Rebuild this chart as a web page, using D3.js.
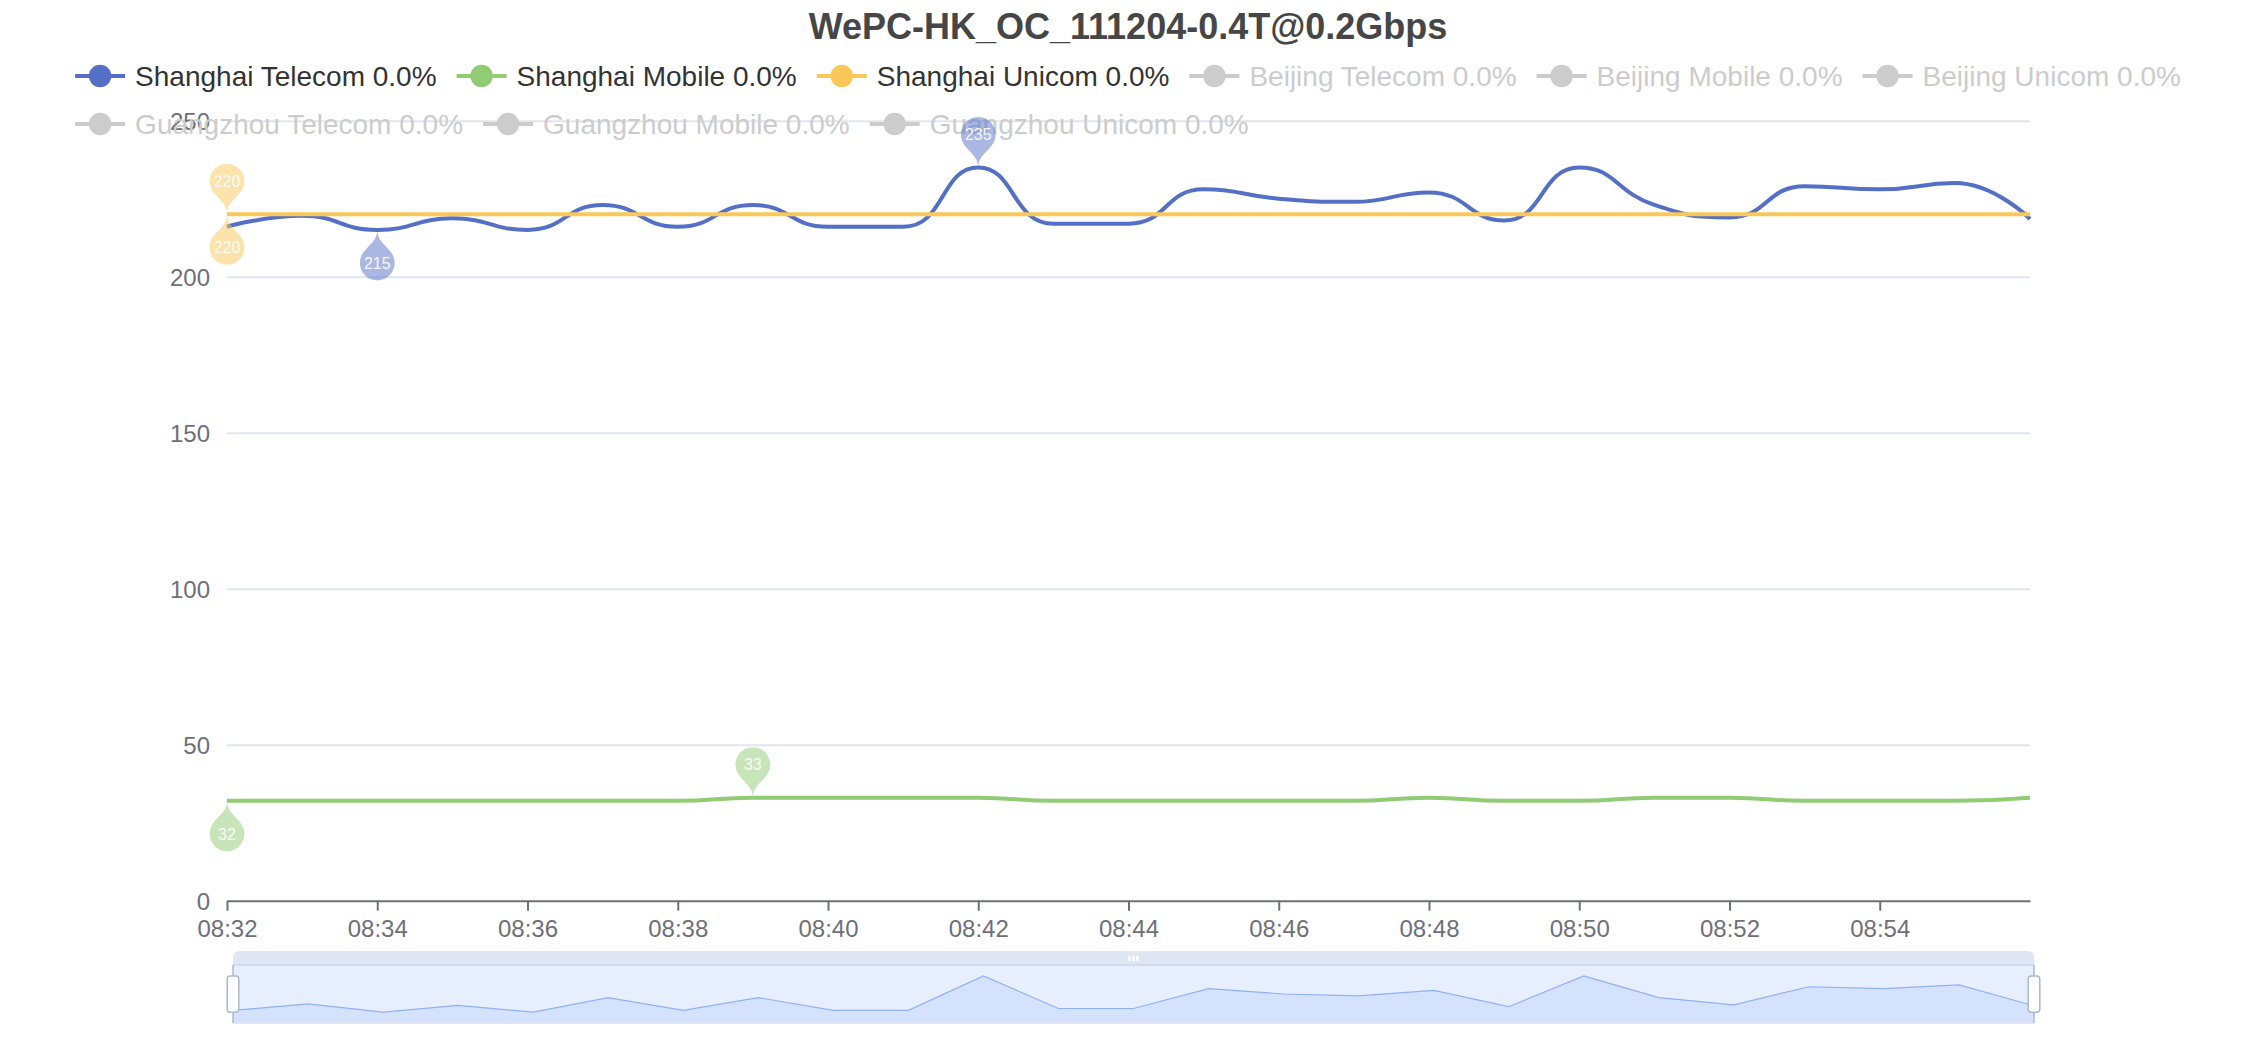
<!DOCTYPE html>
<html>
<head>
<meta charset="utf-8">
<script src="https://cdn.jsdelivr.net/npm/d3@7"></script>
<style>
html,body{margin:0;padding:0;background:#fff;}
svg{display:block;}
text{font-family:"Liberation Sans",Arial,Helvetica,sans-serif;}
</style>
</head>
<body>
<svg id="chart" width="2256" height="1040"></svg>
<script>
// ---------------- data ----------------
const chartTitle = "WePC-HK_OC_111204-0.4T@0.2Gbps";
const times = ["08:32","08:33","08:34","08:35","08:36","08:37","08:38","08:39","08:40","08:41","08:42","08:43","08:44",
               "08:45","08:46","08:47","08:48","08:49","08:50","08:51","08:52","08:53","08:54","08:55","08:56"];
const shanghaiTelecom = [216,219.5,215,218.7,215,223,216,223,216,216,235,217,217,228,225,224,227,218,235,223,219,229,228,230,218.5];
const shanghaiMobile  = [32,32,32,32,32,32,32,33,33,33,33,32,32,32,32,32,33,32,32,33,33,32,32,32,33];
const shanghaiUnicom  = [220,220,220,220,220,220,220,220,220,220,220,220,220,220,220,220,220,220,220,220,220,220,220,220,220];
const legendNames = ["Shanghai Telecom 0.0%","Shanghai Mobile 0.0%","Shanghai Unicom 0.0%","Beijing Telecom 0.0%",
                     "Beijing Mobile 0.0%","Beijing Unicom 0.0%","Guangzhou Telecom 0.0%","Guangzhou Mobile 0.0%","Guangzhou Unicom 0.0%"];
const legendActive = [true,true,true,false,false,false,false,false,false];
const palette = ["#5470c6","#91cc75","#fac858","#ee6666","#73c0de","#3ba272","#fc8452","#9a60b4","#ea7ccc"];
const yTickValues = [0,50,100,150,200,250];
const xTickLabels = ["08:32","08:34","08:36","08:38","08:40","08:42","08:44","08:46","08:48","08:50","08:52","08:54"];
const axisStart = "08:32", axisEnd = "08:56";

// ---------------- setup ----------------
const W = 2256, H = 1040;
const svg = d3.select("#chart");
const parse = d3.timeParse("%H:%M");
const tDates = times.map(parse);

const grid = {left: 227, right: 2030, top: 120.7, bottom: 900.7};
const x = d3.scaleTime().domain([parse(axisStart), parse(axisEnd)]).range([grid.left, grid.right]);
const y = d3.scaleLinear().domain([0, 250]).range([grid.bottom, grid.top]);

const FONT = '"Liberation Sans",Arial,Helvetica,sans-serif';

// ---------------- grid lines ----------------
const yAxis = d3.axisLeft(y).tickValues(yTickValues).tickSize(-(grid.right - grid.left)).tickPadding(16).tickFormat(d3.format("d"));
const gy = svg.append("g").attr("transform", `translate(${grid.left},0)`).call(yAxis);
gy.select(".domain").remove();
gy.selectAll(".tick line").attr("stroke", "#E0E6F1").attr("stroke-width", 2)
  .filter(d => d === 0).remove();
gy.selectAll(".tick text").attr("fill", "#6E7079").attr("font-size", 24).attr("font-family", FONT)
  .attr("dy", null).attr("dominant-baseline", "central").attr("x", -17);

// ---------------- x axis ----------------
const xAxis = d3.axisBottom(x).tickValues(xTickLabels.map(parse)).tickSize(10).tickPadding(14).tickFormat(d3.timeFormat("%H:%M")).tickSizeOuter(0);
const gx = svg.append("g").attr("transform", `translate(0,${grid.bottom})`).call(xAxis);
gx.select(".domain").attr("stroke", "#6E7079").attr("stroke-width", 2);
gx.selectAll(".tick line").attr("stroke", "#6E7079").attr("stroke-width", 2);
gx.selectAll(".tick text").attr("fill", "#6E7079").attr("font-size", 24).attr("font-family", FONT)
  .attr("dy", null).attr("y", 28).attr("dominant-baseline", "central");

// ---------------- legend ----------------
const legendG = svg.append("g");
const itemW = 50, itemH = 28, itemGap = 20, textGap = 10, legendFont = 28;
const items = legendNames.map((name, i) => {
  const t = legendG.append("text").attr("font-size", legendFont).attr("font-family", FONT).text(name);
  const tw = t.node().getComputedTextLength();
  return {name, i, t, w: itemW + textGap + tw};
});
const maxW = W - 20;
let rows = [[]], cx = 0;
items.forEach(it => {
  if (rows[rows.length - 1].length && cx + itemGap + it.w > maxW) { rows.push([]); cx = 0; }
  const row = rows[rows.length - 1];
  if (row.length) cx += itemGap;
  it.x = cx; cx += it.w; row.push(it);
});
const rowWidths = rows.map(r => r[r.length - 1].x + r[r.length - 1].w);
const legendLeft = (W - d3.max(rowWidths)) / 2;
const legendTopCenter = 76;
rows.forEach((row, ri) => {
  const cy = legendTopCenter + ri * (itemH + itemGap);
  row.forEach(it => {
    const col = legendActive[it.i] ? palette[it.i] : "#ccc";
    const x0 = legendLeft + it.x;
    legendG.append("line").attr("x1", x0).attr("x2", x0 + itemW).attr("y1", cy).attr("y2", cy)
      .attr("stroke", col).attr("stroke-width", 4);
    legendG.append("circle").attr("cx", x0 + itemW / 2).attr("cy", cy).attr("r", itemH * 0.8 / 2).attr("fill", col);
    it.t.attr("x", x0 + itemW + textGap).attr("y", cy).attr("dominant-baseline", "central")
      .attr("fill", legendActive[it.i] ? "#333" : "#ccc").raise();
  });
});

// ---------------- ECharts-like smooth curve ----------------
function curveEC(context) {
  let pts;
  const smooth = 0.5;
  return {
    areaStart() {}, areaEnd() {},
    lineStart() { pts = []; },
    point(px, py) { pts.push([+px, +py]); },
    lineEnd() {
      const n = pts.length;
      let prevX, prevY, cpx0, cpy0, cpx1, cpy1;
      for (let k = 0; k < n; k++) {
        const [px, py] = pts[k];
        if (k === 0) { context.moveTo(px, py); cpx0 = px; cpy0 = py; }
        else {
          let nextCpx0 = px, nextCpy0 = py;
          if (k + 1 >= n) { cpx1 = px; cpy1 = py; }
          else {
            const [nx, ny] = pts[k + 1];
            let vx = nx - prevX, vy = ny - prevY;
            const dx0 = px - prevX, dx1 = nx - px, dy0 = py - prevY, dy1 = ny - py;
            const lenPrev = Math.sqrt(dx0 * dx0 + dy0 * dy0);
            const lenNext = Math.sqrt(dx1 * dx1 + dy1 * dy1);
            const ratio = lenNext / (lenNext + lenPrev);
            nextCpx0 = px + vx * smooth * ratio;
            nextCpy0 = py + vy * smooth * ratio;
            nextCpx0 = Math.min(nextCpx0, Math.max(nx, px));
            nextCpy0 = Math.min(nextCpy0, Math.max(ny, py));
            nextCpx0 = Math.max(nextCpx0, Math.min(nx, px));
            nextCpy0 = Math.max(nextCpy0, Math.min(ny, py));
            vx = nextCpx0 - px; vy = nextCpy0 - py;
            cpx1 = px - vx * lenPrev / lenNext;
            cpy1 = py - vy * lenPrev / lenNext;
            cpx1 = Math.min(cpx1, Math.max(prevX, px));
            cpy1 = Math.min(cpy1, Math.max(prevY, py));
            cpx1 = Math.max(cpx1, Math.min(prevX, px));
            cpy1 = Math.max(cpy1, Math.min(prevY, py));
            vx = px - cpx1; vy = py - cpy1;
            nextCpx0 = px + vx * lenNext / lenPrev;
            nextCpy0 = py + vy * lenNext / lenPrev;
          }
          context.bezierCurveTo(cpx0, cpy0, cpx1, cpy1, px, py);
          cpx0 = nextCpx0; cpy0 = nextCpy0;
        }
        prevX = px; prevY = py;
      }
    }
  };
}

// ---------------- series lines ----------------
const seriesList = [
  {values: shanghaiTelecom, color: palette[0]},
  {values: shanghaiMobile, color: palette[1]},
  {values: shanghaiUnicom, color: palette[2]}
];
const lineGen = d3.line().x((d, i) => x(tDates[i])).y(d => y(d)).curve(curveEC);
const linesG = svg.append("g");
seriesList.forEach(s => {
  linesG.append("path").attr("d", lineGen(s.values)).attr("fill", "none")
    .attr("stroke", s.color).attr("stroke-width", 4).attr("stroke-linejoin", "bevel");
});

// ---------------- mark points (pins) ----------------
function pinPath(px, py, size) {
  const w = size / 5 * 3, h = Math.max(w, size), r = w / 2;
  const dy = r * r / (h - r);
  const cy = py - h + r + dy;
  const angle = Math.asin(dy / r);
  const dx = Math.cos(angle) * r;
  const tanX = Math.sin(angle), tanY = Math.cos(angle);
  const cpLen = r * 0.6, cpLen2 = r * 0.7;
  const p = d3.path();
  p.moveTo(px - dx, cy + dy);
  p.arc(px, cy, r, Math.PI - angle, Math.PI * 2 + angle);
  p.bezierCurveTo(px + dx - tanX * cpLen, cy + dy + tanY * cpLen, px, py - cpLen2, px, py);
  p.bezierCurveTo(px, py - cpLen2, px - dx + tanX * cpLen, cy + dy + tanY * cpLen, px - dx, cy + dy);
  p.closePath();
  return {d: p.toString(), off: py - cy};
}
const pinSize = 58;
const pinsG = svg.append("g");
seriesList.forEach(s => {
  const marks = [
    {idx: d3.maxIndex(s.values), rot: 0},
    {idx: d3.minIndex(s.values), rot: 180}
  ];
  marks.forEach(m => {
    const px = x(tDates[m.idx]), py = y(s.values[m.idx]);
    const pin = pinPath(px, py, pinSize);
    pinsG.append("path").attr("d", pin.d).attr("fill", s.color).attr("opacity", 0.5)
      .attr("transform", m.rot ? `rotate(180,${px},${py})` : null);
    const ly = m.rot ? py + pin.off : py - pin.off;
    pinsG.append("text").attr("x", px).attr("y", ly).attr("text-anchor", "middle")
      .attr("dominant-baseline", "central").attr("font-size", 16).attr("font-family", FONT)
      .attr("fill", "#fff").attr("opacity", 0.9).text(d3.format("d")(Math.round(s.values[m.idx])));
  });
});

// ---------------- data zoom slider ----------------
const dz = {left: 233, right: 2034, top: 965, bottom: 1023, moveTop: 951};
const dzG = svg.append("g");
const sx = d3.scaleTime().domain([tDates[0], tDates[tDates.length - 1]]).range([dz.left, dz.right]);
const vMin = d3.min(shanghaiTelecom), vMax = d3.max(shanghaiTelecom), vOff = (vMax - vMin) * 0.3;
const sy = d3.scaleLinear().domain([vMin - vOff, vMax + vOff]).range([dz.bottom, dz.top]);

// move handle strip
dzG.append("path")
  .attr("d", (() => { const p = d3.path(); const r = 6;
    p.moveTo(dz.left, dz.top); p.lineTo(dz.left, dz.moveTop + r);
    p.arcTo(dz.left, dz.moveTop, dz.left + r, dz.moveTop, r);
    p.lineTo(dz.right - r, dz.moveTop); p.arcTo(dz.right, dz.moveTop, dz.right, dz.moveTop + r, r);
    p.lineTo(dz.right, dz.top); p.closePath(); return p.toString(); })())
  .attr("fill", "#D2DBEE").attr("opacity", 0.7);
// filler
dzG.append("rect").attr("x", dz.left).attr("y", dz.top).attr("width", dz.right - dz.left).attr("height", dz.bottom - dz.top)
  .attr("fill", "rgba(135,175,255,0.2)");
// data shadow
const area = d3.area().x((d, i) => sx(tDates[i])).y0(dz.bottom).y1(d => sy(d));
dzG.append("path").attr("d", area(shanghaiTelecom)).attr("fill", "#8fb0f7").attr("opacity", 0.2);
const sline = d3.line().x((d, i) => sx(tDates[i])).y(d => sy(d));
dzG.append("path").attr("d", sline(shanghaiTelecom)).attr("fill", "none").attr("stroke", "#8fb0f7").attr("stroke-width", 1.2);
// border
dzG.append("line").attr("x1", dz.left).attr("x2", dz.right).attr("y1", dz.top).attr("y2", dz.top)
  .attr("stroke", "#d2dbee").attr("stroke-width", 2);
dzG.append("line").attr("x1", dz.left).attr("x2", dz.right).attr("y1", dz.bottom).attr("y2", dz.bottom)
  .attr("stroke", "#dfe5f2").attr("stroke-width", 2);
// move handle icon (three bars)
const midX = (dz.left + dz.right) / 2;
[-4, 0, 4].forEach(o => {
  dzG.append("rect").attr("x", midX + o - 1.1).attr("y", 955.5).attr("width", 2.2).attr("height", 6)
    .attr("rx", 1).attr("fill", "#fff");
});
// side handles
[dz.left, dz.right].forEach(hx => {
  const s = (dz.bottom - dz.top) / 40;
  dzG.append("line").attr("x1", hx).attr("x2", hx).attr("y1", dz.top).attr("y2", dz.bottom)
    .attr("stroke", "#ACB8D1").attr("stroke-width", 1.5);
  dzG.append("rect").attr("x", hx - 4 * s).attr("y", dz.top + 7.5 * s).attr("width", 8 * s).attr("height", 25.06 * s)
    .attr("rx", 2 * s).attr("fill", "#fff").attr("stroke", "#ACB8D1").attr("stroke-width", 1.5);
});

// ---------------- title ----------------
svg.append("text").attr("x", W / 2).attr("y", 38.5).attr("text-anchor", "middle")
  .attr("font-size", 36).attr("font-weight", "bold").attr("font-family", FONT).attr("fill", "#464646")
  .text(chartTitle);
</script>
</body>
</html>
